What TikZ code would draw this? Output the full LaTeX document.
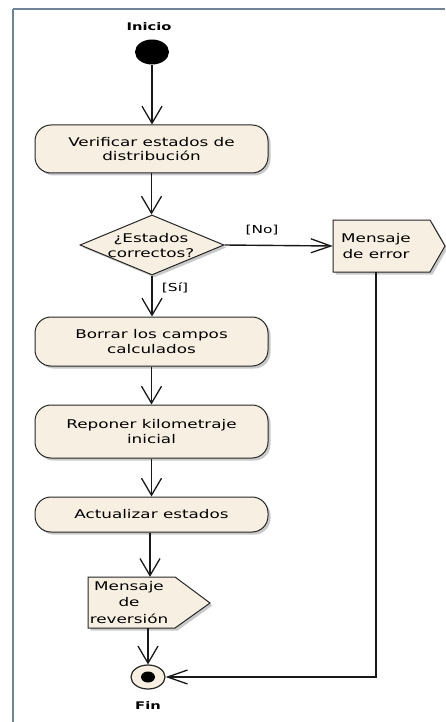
\documentclass[tikz,border=0pt]{standalone}
\usepackage{fontspec}
\setmainfont{DejaVu Sans}[FakeStretch=1.4]
\usetikzlibrary{arrows.meta,shapes.geometric,shadows}
\definecolor{cream}{RGB}{247,240,226}
\definecolor{framec}{RGB}{112,132,152}
\tikzset{
  shad/.style={drop shadow={shadow xshift=2.5pt,shadow yshift=-2.5pt,opacity=.35,fill=black!60}},
  act/.style={draw=black!85, line width=1pt, fill=cream, rounded corners=16pt,
    minimum width=233pt, inner sep=0pt, align=center,
    font=\fontsize{12}{14.5}\selectfont, shad},
  txt/.style={inner sep=0pt, align=center, font=\fontsize{12}{15.5}\selectfont},
  lbl/.style={inner sep=0pt, font=\bfseries\fontsize{10.5}{12}\selectfont},
  conn/.style={line width=1.4pt, black!90},
  varr/.style={conn, -{Straight Barb[length=17pt,width=20pt,line width=1.3pt]}},
  harr/.style={conn, -{Straight Barb[length=20pt,width=14pt,line width=1.3pt]}},
  sig/.style={draw=black!85, line width=1pt, fill=cream, shad},
}
\begin{document}
\begin{tikzpicture}[x=1pt,y=-1pt]
\useasboundingbox (0,0) rectangle (445,722);
\fill[white] (0,0) rectangle (445,722);
% frame
\draw[framec, line width=2.5pt] (13,9) -- (445,9);
\draw[framec, line width=2.5pt] (13,9) -- (13,722);

% start
\node[lbl] (inicio) at (149,27) {Inicio};
\node[ellipse, fill=black, minimum width=34pt, minimum height=25pt, inner sep=0pt] (start) at (152,52) {};

% activities
\node[act, minimum height=48pt] (b1) at (151.5,149) {Verificar estados de\\distribución};
\node[diamond, draw=black!85, line width=1pt, fill=cream, minimum width=144pt, minimum height=60pt, aspect=2.4, inner sep=0pt, shad] (dec) at (152,245) {};
\node[txt] (dectxt) at (151,245.5) {¿Estados\\correctos?};
\node[act, minimum height=49pt] (b2) at (151.5,341.5) {Borrar los campos\\calculados};
\node[act, minimum height=53pt] (b3) at (151.5,431.5) {Reponer kilometraje\\inicial};
\node[act, minimum height=35pt] (b4) at (151.5,514.5) {Actualizar estados};

% signal: error
\path[sig] (333,220) -- (430,220) -- (445,246) -- (430,272) -- (333,272) -- cycle;
\node[txt, minimum width=86pt, minimum height=52pt] (err) at (376,246) {Mensaje\\de error};

% signal: reversion
\path[sig] (88,577) -- (175,577) -- (210,603) -- (175,628) -- (88,628) -- cycle;
\node[txt, minimum width=82pt, minimum height=51pt, font=\fontsize{12}{16.5}\selectfont] (rev) at (129,602.5) {Mensaje\\de\\reversión};

% end
\node[ellipse, draw=black!85, line width=1.2pt, fill=cream, minimum width=34pt, minimum height=24pt, inner sep=0pt] (endc) at (148,677) {};
\fill[black] (endc.center) ellipse [x radius=7pt, y radius=5.5pt];
\node[lbl] (fin) at (148,706) {Fin};

% connectors
\draw[varr] (start.south) -- (start.south |- b1.north);
\draw[varr] (b1.south) -- (b1.south |- dec.north);
\draw[harr] (dec.east) -- (err.west);
\node[txt, font=\fontsize{11}{13}\selectfont] (no) at (262,230) {[No]};
\draw[varr] (dec.south) -- (dec.south |- b2.north);
\node[txt, font=\fontsize{11}{13}\selectfont] (si) at (175,288) {[Sí]};
\draw[varr] (b2.south) -- (b2.south |- b3.north);
\draw[varr] (b3.south) -- (b3.south |- b4.north);
\draw[varr] ([xshift=-1.5pt]b4.south) -- ([xshift=-1.5pt]b4.south |- rev.north);
\draw[varr] (rev.south -| endc.north) -- (endc.north);
\draw[harr] (err.south) |- (endc.east);
\end{tikzpicture}
\end{document}
